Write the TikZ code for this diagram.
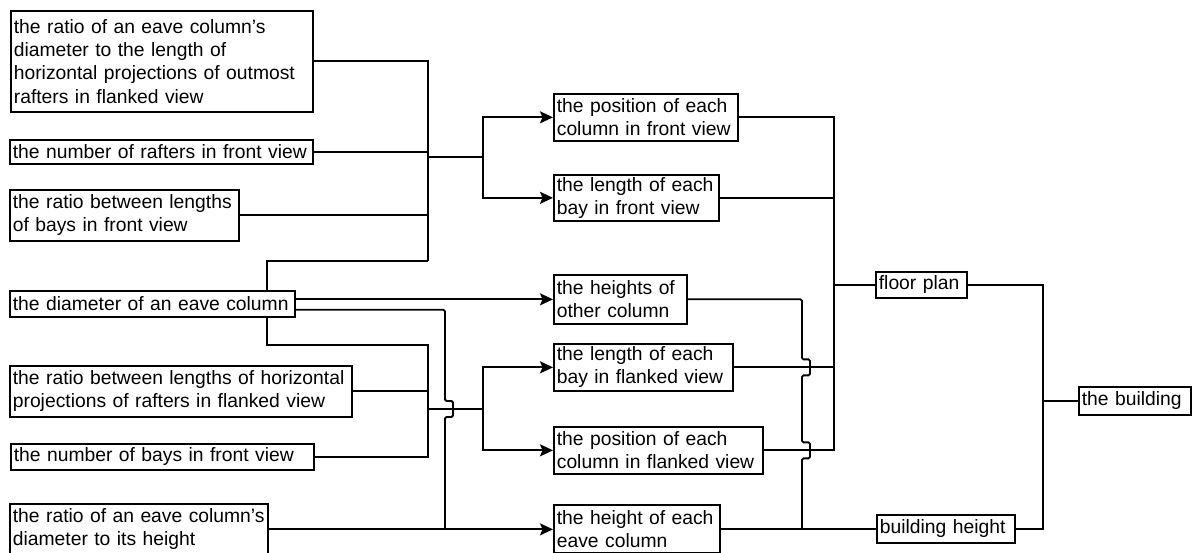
\documentclass[tikz,border=0pt]{standalone}
\usepackage{fontspec}
\setmainfont{Liberation Sans}
\usetikzlibrary{arrows.meta,calc}
% one unbreakable line of a box label
\newcommand\tl[1]{\mbox{#1}}

\begin{document}
\begin{tikzpicture}[x=1pt,y=-1pt,
  box/.style={draw, line width=1.7pt, anchor=north west, inner xsep=3pt, inner ysep=0pt,
    align=left, font=\fontsize{19.3}{23.3}\selectfont},
  wire/.style={draw, line width=1.8pt},
  arr/.style={wire, -{Stealth[length=13pt,width=12pt,inset=2.5pt]}},
  hop/.style={wire, rounded corners=1.5pt}
]
\useasboundingbox[fill=white] (0,0) rectangle (1194,553);

% inputs
\node[box, text width=296pt, minimum height=101pt] (n1) at (10,10)
  {\tl{the ratio of an eave column’s}\\\tl{diameter to the length of}\\\tl{horizontal projections of outmost}\\\tl{rafters in flanked view}};
\node[box, text width=297pt, minimum height=24pt] (n2) at (9,139) {\tl{the number of rafters in front view}};
\node[box, text width=223pt, minimum height=51pt] (n3) at (9,189) {\tl{the ratio between lengths}\\\tl{of bays in front view}};
\node[box, text width=279pt, minimum height=26pt] (n4) at (9,290) {\tl{the diameter of an eave column}};
\node[box, text width=336pt, minimum height=51pt] (n5) at (9,365)
  {\tl{the ratio between lengths of horizontal}\\\tl{projections of rafters in flanked view}};
\node[box, text width=297pt, minimum height=26pt] (n6) at (10,443) {\tl{the number of bays in front view}};
\node[box, text width=252pt, minimum height=51pt] (n7) at (9,503) {\tl{the ratio of an eave column’s}\\\tl{diameter to its height}};

% intermediate quantities
\node[box, text width=178pt, minimum height=47pt] (A) at (553,93) {\tl{the position of each}\\\tl{column in front view}};
\node[box, text width=159pt, minimum height=46pt] (B) at (553,174) {\tl{the length of each}\\\tl{bay in front view}};
\node[box, text width=127pt, minimum height=49pt] (C) at (553,274) {\tl{the heights of}\\\tl{other column}};
\node[box, text width=173pt, minimum height=47pt] (D) at (553,343) {\tl{the length of each}\\\tl{bay in flanked view}};
\node[box, text width=203pt, minimum height=47pt] (E) at (553,426) {\tl{the position of each}\\\tl{column in flanked view}};
\node[box, text width=160pt, minimum height=48pt] (F) at (553,504) {\tl{the height of each}\\\tl{eave column}};

% results
\node[box, text width=85pt, minimum height=26pt] (fp) at (875,271) {\tl{floor plan}};
\node[box, text width=132pt, minimum height=28pt] (bh) at (876,514) {\tl{building height}};
\node[box, text width=106pt, minimum height=28pt] (tb) at (1078,386) {\tl{the building}};

% routing columns
\coordinate (tap) at (267,0);
\coordinate (busTop) at (428,261);
\coordinate (busLow) at (428,345);
\coordinate (j1) at (428,157);
\coordinate (j2) at (428,409);
\coordinate (split) at (483,0);
\coordinate (drop) at (445,0);
\coordinate (bR) at (834,0);
\coordinate (hR) at (802,0);
\coordinate (bF) at (1043,0);

% upper group
\draw[wire] (n1.east) -| (busTop);
\draw[wire] (n2.east) -- (n2.east -| busTop);
\draw[wire] (n3.east) -- (n3.east -| busTop);
\draw[wire] (n4.north -| tap) |- (busTop);
\draw[wire] (j1) -- (j1 -| split);
\draw[arr] (j1 -| split) |- (A.west);
\draw[arr] (j1 -| split) |- (B.west);

% lower group
\draw[wire] (n4.south -| tap) |- (busLow) |- (n6.east);
\draw[wire] (n5.east) -- (n5.east -| busLow);
\draw[wire] (j2) -- (j2 -| split);
\draw[arr] (j2 -| split) |- (D.west);
\draw[arr] (j2 -| split) |- (E.west);

% diameter to heights
\draw[arr] (C.west -| n4.east) -- (C.west);
\draw[hop] ($(n4.east)+(0,6)$) -| ($(drop |- j2)+(0,-8)$) -- ++(8,0) -- ++(0,16) -- ++(-8,0) -- (drop |- n7.east);
\draw[arr] (n7.east) -- (n7.east -| F.west);

% floor plan
\draw[wire] (A.east) -| (bR |- E.east) -- (E.east);
\draw[wire] (B.east) -- (B.east -| bR);
\draw[wire] (D.east) -- (D.east -| bR);
\draw[wire] (fp.west -| bR) -- (fp.west);

% building height
\draw[hop] (C.east) -| ($(hR |- D.east)+(0,-8)$) -- ++(8,0) -- ++(0,16) -- ++(-8,0)
  -- ($(hR |- E.east)+(0,-8)$) -- ++(8,0) -- ++(0,16) -- ++(-8,0) -- (hR |- F.east);
\draw[wire] (F.east) -- (F.east -| bh.west);

% the building
\draw[wire] (fp.east) -| (bF |- tb.west) |- (bh.east);
\draw[wire] (bF |- tb.west) -- (tb.west);
\end{tikzpicture}
\end{document}
